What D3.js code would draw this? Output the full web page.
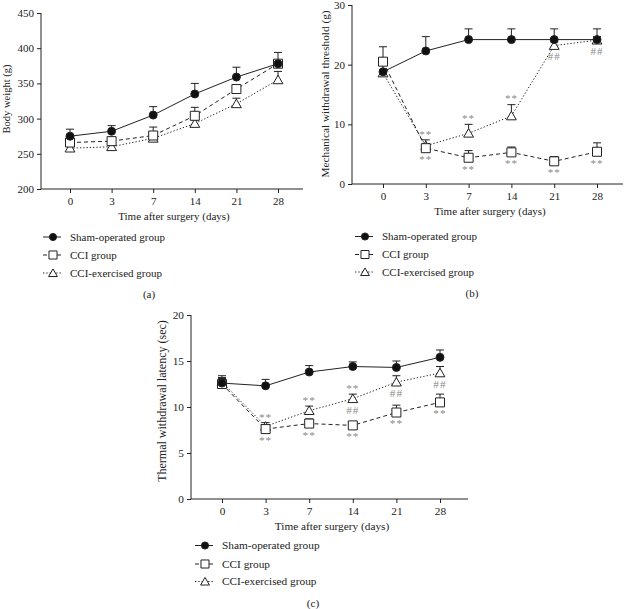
<!DOCTYPE html>
<html><head><meta charset="utf-8">
<script src="https://cdn.jsdelivr.net/npm/d3@7"></script>
<style>
body{margin:0;background:#fff;}
text{font-family:"Liberation Serif","DejaVu Serif",serif;fill:#222;}
</style></head>
<body><svg id="c" width="625" height="609"></svg>
<script>
// ---------- data ----------
const days = ["0","3","7","14","21","28"];
const groupNames = ["Sham-operated group","CCI group","CCI-exercised group"];

// (a) body weight (g)
const bwSham    = [275, 282, 305, 335, 359, 378];
const bwShamErr = [10, 8, 12, 15, 14, 16];
const bwCCI     = [266, 268, 276, 304, 342, 378];
const bwCCIErr  = [3, 3, 12, 12, 6, 4];
const bwEx      = [258, 260, 272, 293, 321, 355];
const bwExErr   = [3, 3, 5, 5, 8, 12];
const bwTicks   = [200, 250, 300, 350, 400, 450];

// (b) mechanical withdrawal threshold (g)
const mwSham    = [18.8, 22.3, 24.2, 24.2, 24.2, 24.2];
const mwShamErr = [1.5, 2.4, 1.8, 1.8, 1.8, 1.8];
const mwCCI     = [20.5, 6.0, 4.4, 5.3, 3.8, 5.4];
const mwCCIErr  = [2.5, 0.8, 1.2, 0.9, 0.8, 1.5];
const mwEx      = [18.6, 6.4, 8.5, 11.4, 23.2, 24.1];
const mwExErr   = [0.6, 1.0, 1.5, 1.9, 0.6, 0.6];
const mwTicks   = [0, 10, 20, 30];
// [series index, day index, text, side]
const mwMarks = [[2,1,"**","above"],[1,1,"**","below"],[2,2,"**","above"],[1,2,"**","below"],
  [2,3,"**","above"],[1,3,"**","below"],[2,4,"##","below"],[1,4,"**","below"],
  [2,5,"##","below"],[1,5,"**","below"]];

// (c) thermal withdrawal latency (sec)
const twSham    = [12.6, 12.3, 13.8, 14.4, 14.3, 15.4];
const twShamErr = [0.8, 0.7, 0.7, 0.5, 0.7, 0.8];
const twCCI     = [12.5, 7.6, 8.2, 8.0, 9.4, 10.5];
const twCCIErr  = [0.6, 0.3, 0.5, 0.4, 0.8, 0.9];
const twEx      = [12.7, 7.9, 9.6, 10.9, 12.7, 13.7];
const twExErr   = [0.5, 0.4, 0.5, 0.5, 0.7, 0.7];
const twTicks   = [0, 5, 10, 15, 20];
const twMarks = [[2,1,"**","above"],[1,1,"**","below"],[2,2,"**","above"],[1,2,"**","below"],
  [2,3,"**","above"],[2,3,"##","below"],[1,3,"**","below"],[2,4,"##","below"],[1,4,"**","below"],
  [2,5,"##","below"],[1,5,"**","below"]];

// ---------- drawing ----------
const svg = d3.select("#c");
const dashes = [null, "4,3", "1.3,2"];
const symbols = [d3.symbolCircle, d3.symbolSquare, d3.symbolTriangle];
const symSize = [50, 81, 42];
const symFill = ["#111", "#fff", "#fff"];

function panel(cfg){
  const g = svg.append("g");
  const fs = cfg.fs;
  const x = d3.scalePoint().domain(days).range([cfg.x0, cfg.x1]);
  const y = d3.scaleLinear().domain([cfg.ticks[0], cfg.ticks[cfg.ticks.length-1]]).range([cfg.yb, cfg.yt]);
  // axes
  const ya = g.append("g").attr("transform",`translate(${cfg.ax},0)`)
    .call(d3.axisLeft(y).tickValues(cfg.ticks).tickSize(4).tickSizeOuter(0).tickPadding(3));
  ya.select(".domain").remove();
  g.append("line").attr("x1",cfg.ax).attr("x2",cfg.ax).attr("y1",cfg.yt).attr("y2",cfg.yb).attr("stroke","#222");
  const xa = g.append("g").attr("transform",`translate(0,${cfg.yb})`)
    .call(d3.axisBottom(x).tickSize(4).tickSizeOuter(0).tickPadding(4));
  xa.select(".domain").remove();
  g.append("line").attr("x1",cfg.ax).attr("x2",cfg.axEnd).attr("y1",cfg.yb).attr("y2",cfg.yb).attr("stroke","#222");
  g.selectAll(".tick text").attr("font-size",fs).attr("fill","#222");
  g.selectAll(".tick line").attr("stroke","#222");
  // labels
  g.append("text").attr("x",cfg.titleX).attr("y",cfg.yb+31).attr("text-anchor","middle")
    .attr("font-size",fs).text("Time after surgery (days)");
  g.append("text").attr("transform",`translate(${cfg.ylabX},${cfg.ylabY}) rotate(-90)`)
    .attr("text-anchor","middle").attr("font-size",cfg.ylabFs).text(cfg.ylabel);
  // series
  const order = [2,1,0];
  order.forEach(si=>{
    const vals = cfg.series[si], errs = cfg.errs[si];
    const pts = days.map((d,i)=>({d, v:vals[i], e:errs[i]}));
    const eb = g.append("g").attr("stroke","#222").attr("stroke-width",1);
    pts.forEach(p=>{
      eb.append("line").attr("x1",x(p.d)).attr("x2",x(p.d)).attr("y1",y(p.v)).attr("y2",y(p.v+p.e));
      eb.append("line").attr("x1",x(p.d)-4).attr("x2",x(p.d)+4).attr("y1",y(p.v+p.e)).attr("y2",y(p.v+p.e));
    });
    g.append("path").datum(pts).attr("fill","none").attr("stroke","#222").attr("stroke-width",1)
      .attr("stroke-dasharray",dashes[si])
      .attr("d",d3.line().x(p=>x(p.d)).y(p=>y(p.v)));
  });
  order.forEach(si=>{
    const vals = cfg.series[si];
    g.selectAll(null).data(days.map((d,i)=>({d,v:vals[i]}))).join("path")
      .attr("transform",p=>`translate(${x(p.d)},${y(p.v)+(si===2?1:0)})`)
      .attr("d",d3.symbol(symbols[si],symSize[si])())
      .attr("fill",symFill[si]).attr("stroke","#222").attr("stroke-width",1);
  });
  // significance marks
  (cfg.marks||[]).forEach(([si,di,t,side])=>{
    const v = cfg.series[si][di], e = cfg.errs[si][di];
    const yy = side==="above" ? y(v+e)-6 : y(v)+11;
    g.append("text").attr("x",x(days[di])).attr("y",yy).attr("dy","0.35em")
      .attr("text-anchor","middle").attr("font-size",fs).attr("letter-spacing",1)
      .style("fill","#8a8a8a").text(t);
  });
  // legend
  cfg.legendY.forEach((ly,si)=>{
    g.append("line").attr("x1",cfg.legX).attr("x2",cfg.legX+18).attr("y1",ly).attr("y2",ly)
      .attr("stroke","#222").attr("stroke-dasharray",dashes[si]);
    g.append("path").attr("transform",`translate(${cfg.legX+10},${ly+(si===2?1:0)})`)
      .attr("d",d3.symbol(symbols[si],symSize[si]*0.8)())
      .attr("fill",symFill[si]).attr("stroke","#222");
    g.append("text").attr("x",cfg.legX+27).attr("y",ly).attr("dy","0.35em")
      .attr("font-size",fs).text(groupNames[si]);
  });
  g.append("text").attr("x",cfg.capX).attr("y",cfg.capY).attr("dy","0.35em")
    .attr("text-anchor","middle").attr("font-size",fs).text(cfg.cap);
}

panel({x0:70,x1:278,ax:41,axEnd:303,yt:13,yb:189,ticks:bwTicks,fs:11,
  series:[bwSham,bwCCI,bwEx],errs:[bwShamErr,bwCCIErr,bwExErr],
  ylabel:"Body weight (g)",ylabX:10,ylabY:99,ylabFs:10.5,titleX:174,
  legX:43,legendY:[237,255,273],cap:"(a)",capX:149,capY:294});

panel({x0:383,x1:597,ax:352,axEnd:623,yt:5,yb:184,ticks:mwTicks,fs:11,
  series:[mwSham,mwCCI,mwEx],errs:[mwShamErr,mwCCIErr,mwExErr],marks:mwMarks,
  ylabel:"Mechanical withdrawal threshold (g)",ylabX:329,ylabY:94,ylabFs:11.3,titleX:490,
  legX:355,legendY:[236.5,254.5,272],cap:"(b)",capX:472,capY:293.5});

panel({x0:222,x1:440,ax:191,axEnd:468,yt:315,yb:499,ticks:twTicks,fs:11.3,
  series:[twSham,twCCI,twEx],errs:[twShamErr,twCCIErr,twExErr],marks:twMarks,
  ylabel:"Thermal withdrawal latency (sec)",ylabX:166,ylabY:401,ylabFs:12,titleX:332,
  legX:195,legendY:[545.5,564,581.5],cap:"(c)",capX:313,capY:603});
</script></body></html>
